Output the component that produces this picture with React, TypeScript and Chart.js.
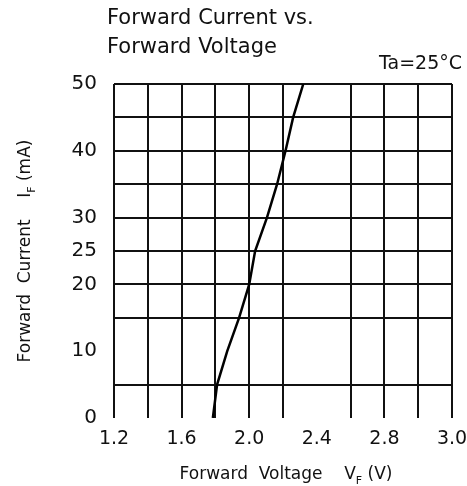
import React, { useEffect, useRef } from "react";
import { Chart, registerables } from "chart.js";

Chart.register(...registerables);

// Data (Forward Current vs. Forward Voltage)
const voltage = [1.785, 1.81, 1.87, 1.94, 2.0, 2.035, 2.105, 2.165, 2.215, 2.26, 2.32];
const current = [0, 5, 10, 15, 20, 25, 30, 35, 40, 45, 50];

// Tick positions on the axes and the labels printed at them
const xTickValues = ["1.2", "1.6", "2.0", "2.4", "2.8", "3.2"];
const xTickLabels = ["1.2", "1.6", "2.0", "2.4", "2.8", "3.0"];
const yTickLabels = ["0", "10", "20", "25", "30", "40", "50"];
const xGridOmitted = ["2.4"];
const yGridOmitted = ["0", "10"];

const titleLines = ["Forward Current vs.", "Forward Voltage"];
const condition = "Ta=25°C";

const FONT = "DejaVu Sans";

const textPlugin = {
  id: "textPlugin",
  afterDraw(chart: any) {
    const ctx = chart.ctx as CanvasRenderingContext2D;
    const area = chart.chartArea;
    ctx.save();
    ctx.fillStyle = "#111";
    // Title
    ctx.font = `21px "${FONT}"`;
    ctx.textAlign = "left";
    ctx.textBaseline = "middle";
    ctx.fillText(titleLines[0], 107, 19);
    ctx.fillText(titleLines[1], 107, 48);
    // Condition
    ctx.font = `19px "${FONT}"`;
    ctx.textAlign = "right";
    ctx.fillText(condition, 462, 64);

    const drawSub = (main: string, sub: string, tail: string, cx: number, cy: number) => {
      ctx.textAlign = "left";
      ctx.textBaseline = "middle";
      ctx.font = `17px "${FONT}"`;
      const w1 = ctx.measureText(main).width;
      const w3 = ctx.measureText(tail).width;
      ctx.font = `11px "${FONT}"`;
      const w2 = ctx.measureText(sub).width;
      const total = w1 + w2 + w3;
      let x = cx - total / 2;
      ctx.font = `17px "${FONT}"`;
      ctx.fillText(main, x, cy);
      x += w1;
      ctx.font = `11px "${FONT}"`;
      ctx.fillText(sub, x, cy + 6);
      x += w2;
      ctx.font = `17px "${FONT}"`;
      ctx.fillText(tail, x, cy);
    };
    drawSub("Forward  Voltage    V", "F", " (V)", 286, 475);

    ctx.save();
    ctx.translate(26, (area.top + area.bottom) / 2);
    ctx.rotate(-Math.PI / 2);
    drawSub("Forward  Current    I", "F", " (mA)", 0, 0);
    ctx.restore();

    ctx.restore();
  },
};

export default function App() {
  const ref = useRef<HTMLCanvasElement | null>(null);

  useEffect(() => {
    if (!ref.current) return;
    const gridColor = (omit: string[], digits: number) => (c: any) => {
      const v = c.tick ? Number(c.tick.value).toFixed(digits) : "";
      return omit.includes(v) ? "rgba(0,0,0,0)" : "#111";
    };
    const chart = new Chart(ref.current, {
      type: "scatter",
      data: {
        datasets: [
          {
            data: voltage.map((v, i) => ({ x: v, y: current[i] })),
            showLine: true,
            borderColor: "#000",
            borderWidth: 2.5,
            pointRadius: 0,
            tension: 0,
          },
        ],
      },
      plugins: [textPlugin],
      options: {
        animation: false,
        responsive: false,
        maintainAspectRatio: false,
        layout: { padding: { top: 84, right: 0, left: 0, bottom: 0 } },
        plugins: { legend: { display: false }, tooltip: { enabled: false }, title: { display: false } },
        scales: {
          x: {
            type: "linear",
            min: 1.2,
            max: 3.2,
            afterFit: (s: any) => {
              s.height = 68;
              s.paddingLeft = 0;
              s.paddingRight = 15;
            },
            border: { display: false },
            grid: { color: gridColor(xGridOmitted, 1), lineWidth: 2, drawTicks: false },
            ticks: {
              stepSize: 0.2,
              padding: 10,
              color: "#111",
              font: { family: FONT, size: 19 },
              maxRotation: 0,
              autoSkip: false,
              callback: (v: any) => {
                const i = xTickValues.indexOf(Number(v).toFixed(1));
                return i >= 0 ? xTickLabels[i] : "";
              },
            },
          },
          y: {
            type: "linear",
            min: 0,
            max: 50,
            afterFit: (s: any) => {
              s.width = 114;
              s.paddingTop = 0;
              s.paddingBottom = 0;
            },
            border: { display: false },
            grid: { color: gridColor(yGridOmitted, 0), lineWidth: 2, drawTicks: false },
            ticks: {
              stepSize: 5,
              padding: 17,
              color: "#111",
              font: { family: FONT, size: 20 },
              autoSkip: false,
              callback: (v: any) => {
                const s = Number(v).toFixed(0);
                return yTickLabels.includes(s) ? s : "";
              },
            },
          },
        },
      },
    });
    return () => chart.destroy();
  }, []);

  return (
    <div style={{ position: "fixed", left: 0, top: 0, width: 467, height: 486, background: "#fff" }}>
      <canvas ref={ref} width={467} height={486} style={{ display: "block", width: 467, height: 486 }} />
    </div>
  );
}
